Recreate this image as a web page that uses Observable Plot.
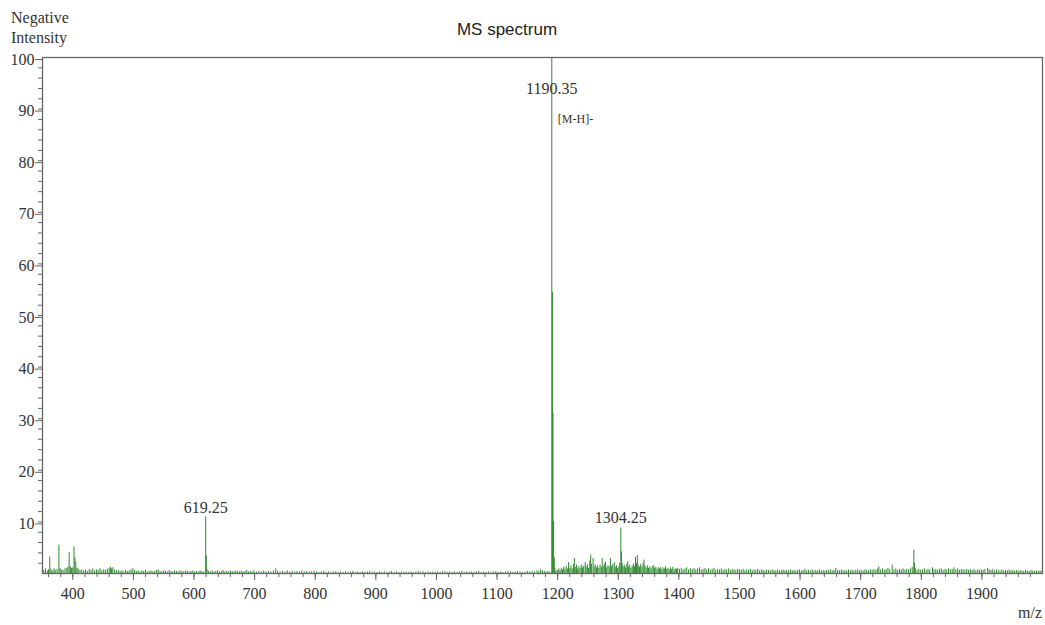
<!DOCTYPE html>
<html>
<head>
<meta charset="utf-8">
<script src="https://cdn.jsdelivr.net/npm/d3@7"></script>
<script src="https://cdn.jsdelivr.net/npm/@observablehq/plot@0.6"></script>
<style>
  body { margin: 0; background: white; }
  #chart svg { display: block; }
</style>
</head>
<body>
<div id="chart"></div>
<script>
// ---- Data (m/z, negative-mode intensity %) ----
const lowCluster = [
  [350,1.2],[352,0.6],[355,0.9],[358,0.5],[360,0.7],[362,3.2],[364,0.8],[366,0.5],[369,0.9],[371,0.6],
  [374,0.8],[377,5.5],[379,1.0],[381,0.7],[384,0.6],[387,0.9],[390,1.0],[392,1.2],[394,4.0],[396,1.3],
  [398,1.0],[400,1.1],[402,5.1],[403.5,3.0],[405,2.2],[407,1.0],[409,0.8],[412,0.6],[415,0.7]
];
const noise415to700 = [
  [418,0.5],[421,0.7],[424,0.4],[427,0.8],[430,0.6],[433,0.9],[436,0.5],[439,0.7],[442,0.6],[445,0.9],
  [448,0.5],[451,0.7],[454,0.6],[457,0.8],[460,1.0],[462,1.2],[464,0.9],[466,1.1],[469,0.7],[472,0.5],
  [475,0.6],[478,0.4],[481,0.5],[484,0.3],[487,0.6],[490,0.4],[493,0.5],[496,0.7],[499,0.9],[502,0.6],
  [505,0.4],[508,0.5],[511,0.3],[514,0.5],[517,0.4],[520,0.6],[523,0.3],[526,0.4],[529,0.5],[532,0.3],
  [535,0.4],[538,0.6],[541,0.7],[544,0.4],[547,0.3],[550,0.5],[553,0.4],[556,0.3],[559,0.6],[562,0.4],
  [565,0.3],[568,0.5],[571,0.4],[574,0.3],[577,0.5],[580,0.4],[583,0.3],[586,0.5],[589,0.4],[592,0.3],
  [595,0.4],[598,0.5],[601,0.3],[604,0.4],[607,0.3],[610,0.5],[613,0.4],[616,0.3],
  [619.25,11.0],[620.25,3.4],[621.5,0.8],[624,0.4],[627,0.3],[630,0.5],[633,0.3],[636,0.4],[639,0.5],
  [642,0.3],[645,0.4],[648,0.6],[651,0.3],[654,0.4],[657,0.3],[660,0.5],[663,0.4],[666,0.3],[669,0.5],
  [672,0.4],[675,0.3],[678,0.5],[681,0.3],[684,0.4],[687,0.6],[690,0.3],[693,0.4],[696,0.3],[699,0.5]
];
const noise700to1188 = [
  [703,0.3],[707,0.4],[711,0.3],[715,0.5],[719,0.3],[723,0.4],[727,0.3],[731,0.5],[735,0.9],[738,0.4],
  [742,0.3],[746,0.4],[750,0.3],[754,0.5],[758,0.3],[762,0.4],[766,0.3],[770,0.4],[774,0.3],[778,0.5],
  [782,0.3],[786,0.4],[790,0.3],[794,0.3],[798,0.4],[802,0.3],[806,0.2],[810,0.3],[814,0.4],[818,0.2],
  [822,0.3],[826,0.2],[830,0.3],[834,0.4],[838,0.2],[842,0.3],[846,0.2],[850,0.3],[854,0.2],[858,0.3],
  [862,0.4],[866,0.2],[870,0.3],[874,0.2],[878,0.3],[882,0.2],[886,0.3],[890,0.4],[894,0.2],[898,0.3],
  [902,0.2],[906,0.3],[910,0.2],[914,0.3],[918,0.2],[922,0.3],[926,0.4],[930,0.2],[934,0.3],[938,0.2],
  [942,0.3],[946,0.2],[950,0.3],[954,0.2],[958,0.3],[962,0.2],[966,0.3],[970,0.4],[974,0.2],[978,0.3],
  [982,0.2],[986,0.3],[990,0.2],[994,0.3],[998,0.2],[1002,0.3],[1006,0.2],[1010,0.3],[1014,0.4],[1018,0.2],
  [1022,0.3],[1026,0.2],[1030,0.3],[1034,0.2],[1038,0.3],[1042,0.4],[1046,0.2],[1050,0.3],[1054,0.2],
  [1058,0.3],[1062,0.2],[1066,0.3],[1070,0.4],[1074,0.2],[1078,0.3],[1082,0.2],[1086,0.3],[1090,0.2],
  [1094,0.3],[1098,0.4],[1102,0.2],[1106,0.3],[1110,0.2],[1114,0.3],[1118,0.4],[1122,0.3],[1126,0.2],
  [1130,0.3],[1134,0.4],[1138,0.3],[1142,0.2],[1146,0.3],[1150,0.4],[1154,0.3],[1158,0.4],[1162,0.3],
  [1166,0.5],[1169,0.4],[1172,0.8],[1175,0.5],[1178,0.4],[1181,0.3],[1184,0.4],[1187,0.3]
];
const molecularIon = [
  [1190.35,100],[1191.35,54.5],[1192.35,31],[1193.35,10],[1194.4,3],[1195.5,1.0],[1197.5,0.5]
];
const cluster1200to1400 = [
  [1200,0.6],[1202,0.9],[1204,0.5],[1206,1.0],[1208,0.7],[1210,1.2],[1212,0.8],[1214,1.4],[1216,0.9],
  [1218,2.1],[1220,1.0],[1222,1.5],[1224,0.9],[1226,1.8],[1227.5,2.9],[1229,1.2],[1231,1.6],[1233,0.9],
  [1235,1.3],[1237,1.0],[1239,1.6],[1241,1.1],[1243,1.4],[1245.5,2.1],[1247,1.2],[1249,1.7],[1251,1.0],
  [1253,2.4],[1254.5,3.6],[1256,1.8],[1258.5,2.9],[1260,1.3],[1262,1.7],[1264,1.1],[1266,1.5],[1268,1.0],
  [1270,1.6],[1272,1.2],[1273.5,2.9],[1275,1.4],[1277,1.8],[1279,2.2],[1281,1.1],[1283,1.5],[1285,1.3],
  [1287,2.9],[1289,1.4],[1291,1.7],[1293.5,2.1],[1295,1.2],[1297,1.5],[1299,1.0],[1301,1.3],[1302.5,2.0],
  [1304.25,8.8],[1305.25,4.2],[1306.5,1.9],[1308,1.3],[1310,1.6],[1312,1.1],[1314,1.7],[1315.7,2.3],
  [1317,1.2],[1319,1.6],[1321,1.0],[1323,1.4],[1325,1.9],[1327,1.3],[1328.5,3.1],[1330,2.0],[1331.5,3.5],
  [1333,1.5],[1335,1.2],[1337,1.8],[1339,1.3],[1341,2.0],[1342.5,2.6],[1344,1.4],[1346,1.1],[1348,1.5],
  [1350,1.0],[1352,1.3],[1354,0.9],[1356,1.4],[1358.5,1.5],[1360,1.0],[1362,1.2],[1364,0.8],[1366,1.1],
  [1368,0.9],[1370,1.2],[1372,0.8],[1374,1.1],[1376,0.9],[1378,1.3],[1380,0.8],[1382,1.0],[1384,0.7],
  [1386,1.1],[1388,0.8],[1390,1.2],[1392,0.7],[1394,0.9],[1396,0.8],[1398,1.0]
];
const noise1400to2000 = [
  [1401,0.8],[1404,1.0],[1407,0.7],[1410,0.9],[1413,1.1],[1416,0.7],[1419,0.9],[1422,0.8],[1425,1.0],
  [1428,0.7],[1431,0.9],[1434,1.1],[1437,0.7],[1440,0.8],[1443,1.0],[1446,0.7],[1449,0.9],[1452,0.6],
  [1455,0.8],[1458,1.0],[1461,0.6],[1464,0.8],[1467,0.7],[1470,0.9],[1473,0.6],[1476,0.8],[1479,0.7],
  [1482,0.9],[1485,0.6],[1488,0.8],[1491,0.7],[1494,0.6],[1497,0.8],[1500,0.7],[1503,0.6],[1506,0.8],
  [1509,0.5],[1512,0.7],[1515,0.6],[1518,0.8],[1521,0.5],[1524,0.7],[1527,0.6],[1530,0.8],[1533,0.5],
  [1536,0.7],[1539,0.6],[1542,0.5],[1545,0.7],[1548,0.6],[1551,0.5],[1554,0.7],[1557,0.6],[1560,0.5],
  [1563,0.7],[1566,0.5],[1569,0.6],[1572,0.7],[1575,0.5],[1578,0.6],[1581,0.5],[1584,0.7],[1587,0.5],
  [1590,0.6],[1593,0.5],[1596,0.6],[1599,0.7],[1602,0.5],[1605,0.6],[1608,0.8],[1611,0.5],[1614,0.6],
  [1617,0.5],[1620,0.7],[1623,0.5],[1626,0.6],[1629,0.5],[1632,0.7],[1635,0.5],[1638,0.6],[1641,0.5],
  [1644,0.6],[1647,0.5],[1650,0.7],[1653,0.5],[1656,0.6],[1659,1.0],[1662,0.6],[1665,0.5],[1668,0.7],
  [1671,0.5],[1674,0.6],[1677,0.5],[1680,0.7],[1683,0.5],[1686,0.6],[1689,0.5],[1692,0.6],[1695,0.7],
  [1698,0.5],[1701,0.6],[1704,0.5],[1707,0.7],[1710,0.6],[1713,0.5],[1716,0.7],[1719,0.6],[1722,0.8],
  [1725,0.6],[1728,0.9],[1730,1.3],[1733,0.7],[1736,0.9],[1739,0.6],[1742,0.8],[1745,1.0],[1748,0.7],
  [1752,1.6],[1755,0.7],[1758,0.9],[1761,0.6],[1764,0.8],[1767,0.7],[1770,0.9],[1773,0.6],[1776,0.8],
  [1779,0.7],[1782,0.9],[1785,1.2],[1787.7,4.5],[1788.7,2.0],[1790,1.0],[1793,0.6],[1796,0.8],[1799,0.6],
  [1802,0.7],[1805,0.9],[1808,0.6],[1811,0.8],[1814,0.7],[1818.5,1.1],[1821,0.7],[1824,0.8],[1827,0.6],
  [1830,0.8],[1833,0.9],[1836,0.6],[1839,0.8],[1842,0.7],[1845,0.9],[1848,0.7],[1851,0.8],[1854,1.1],
  [1857,0.7],[1860,0.9],[1863,0.6],[1866,0.8],[1869,0.7],[1872,0.6],[1875,0.8],[1878,0.6],[1881,0.7],
  [1884,0.6],[1887,0.8],[1890,0.5],[1893,0.7],[1896,0.6],[1899,0.7],[1902,0.6],[1905,0.8],[1909.5,1.0],
  [1912,0.7],[1915,0.6],[1918,0.8],[1921,0.5],[1924,0.7],[1927,0.6],[1930,0.5],[1933,0.7],[1936,0.5],
  [1939,0.6],[1942,0.5],[1945,0.7],[1948,0.5],[1951,0.6],[1954,0.5],[1957,0.6],[1960,0.4],[1963,0.6],
  [1966,0.5],[1969,0.4],[1972,0.6],[1975,0.5],[1978,0.4],[1981,0.6],[1984,0.5],[1987,0.4],[1990,0.5],
  [1993,0.4],[1996,0.5],[1999,0.4]
];

// Peak annotations
const peakLabelMz = [619.25, 1190.35, 1304.25];
const peakLabelText = ["619.25", "1190.35", "1304.25"];
const peakLabelAt = [11.8, 92.9, 9.8];
const ionNote = {mz: 1190.35, at: 87.4, text: "[M-H]-"};

// Axis ticks
const xMajorTicks = [400,500,600,700,800,900,1000,1100,1200,1300,1400,1500,1600,1700,1800,1900];
const xMinorTicks = d3.range(360, 2000, 20);
const yMajorTicks = [10,20,30,40,50,60,70,80,90,100];
const yMinorTicks = d3.range(2, 100, 2);

const titleText = "MS spectrum";
const yLabelLines = ["Negative", "Intensity"];
const xLabelText = "m/z";

// ---- Build ----
const spectrum = [...lowCluster, ...noise415to700, ...noise700to1188, ...molecularIon,
                  ...cluster1200to1400, ...noise1400to2000].map(([mz, intensity]) => ({mz, intensity}));
const labels = peakLabelMz.map((mz, i) => ({mz, at: peakLabelAt[i], text: peakLabelText[i]}));

const W = 1045, H = 625;
const green = "#2e8b2e";
const axisColor = "#666";
const serif = "'Liberation Serif', 'Times New Roman', serif";

const chart = Plot.plot({
  width: W,
  height: H,
  marginLeft: 42,
  marginRight: 3,
  marginTop: 57,
  marginBottom: 52,
  style: {fontFamily: serif, fontSize: "16px", color: "#333", background: "white", overflow: "visible"},
  x: {domain: [350, 2000]},
  y: {domain: [0, 100]},
  marks: [
    Plot.ruleX(spectrum, {x: "mz", y1: 0, y2: "intensity", stroke: green, strokeWidth: 1}),
    Plot.frame({stroke: axisColor, strokeWidth: 1.3}),
    Plot.axisY(yMinorTicks, {tickSize: 4, text: null, label: null, stroke: axisColor}),
    Plot.axisY(yMajorTicks, {tickSize: 7, tickPadding: 1, dy: 2, label: null, stroke: axisColor, fill: "#333", fontSize: 16, tickFormat: d3.format("d")}),
    Plot.axisX(xMinorTicks, {tickSize: 4, text: null, label: null, stroke: axisColor}),
    Plot.axisX(xMajorTicks, {tickSize: 7, tickPadding: 7.5, label: null, stroke: axisColor, fill: "#333", fontSize: 16, tickFormat: d3.format("d")}),
    Plot.text(labels, {x: "mz", y: "at", text: "text", lineAnchor: "bottom", fontSize: 16, fill: "#333"}),
    Plot.text([ionNote], {x: "mz", y: "at", text: "text", lineAnchor: "bottom", textAnchor: "start", dx: 6, fontSize: 12, fill: "#333"})
  ]
});

const svg = d3.select(chart);
function addText(txt, x, y, anchor, size, family, fill) {
  svg.append("text")
    .attr("x", x).attr("y", y)
    .attr("text-anchor", anchor)
    .attr("font-family", family)
    .attr("font-size", size)
    .attr("fill", fill)
    .text(txt);
}
addText(titleText, 507, 35, "middle", 17, "'Liberation Sans', Arial, sans-serif", "#222");
addText(yLabelLines[0], 11, 22.5, "start", 16, serif, "#333");
addText(yLabelLines[1], 11, 43, "start", 16, serif, "#333");
addText(xLabelText, 1042, 618, "end", 16, serif, "#333");

document.getElementById("chart").appendChild(chart);
</script>
</body>
</html>
